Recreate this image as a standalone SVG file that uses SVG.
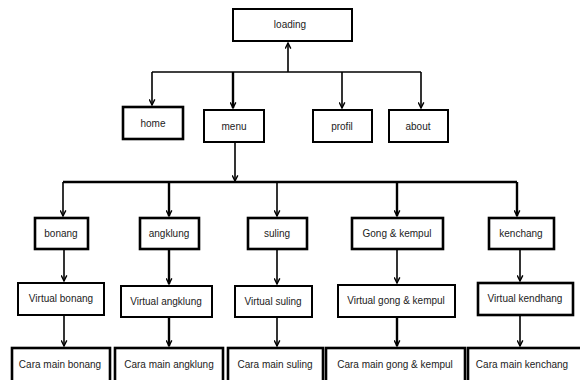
<svg xmlns="http://www.w3.org/2000/svg" width="580" height="380" viewBox="0 0 580 380">
<defs>
<marker id="ah" viewBox="0 0 10 10" refX="9" refY="5" markerWidth="7" markerHeight="7" markerUnits="userSpaceOnUse" orient="auto">
<polyline points="1,1 9,5 1,9" fill="none" stroke="#000" stroke-width="2"/>
</marker>
<style>
rect{fill:#fff;stroke:#000;stroke-width:2}
.t{font-family:"Liberation Sans",Arial,sans-serif;font-size:10px;fill:#222;text-anchor:middle}
.c line,.c polyline{stroke:#000;stroke-width:1.6;fill:none}
.c .a{marker-end:url(#ah)}
.c .b{stroke-width:2.4}
</style>
</defs>
<rect x="0" y="0" width="580" height="380" style="fill:#fff;stroke:none"/>
<g class="c" id="connectors">
<line class="a" x1="288" y1="72" x2="288" y2="43"/>
<line x1="152" y1="72" x2="421" y2="72"/>
<line class="a" x1="152" y1="72" x2="152" y2="105"/>
<line class="a b" x1="233" y1="72" x2="233" y2="108"/>
<line class="a" x1="342" y1="72" x2="342" y2="108"/>
<line class="a" x1="421" y1="72" x2="421" y2="108"/>
<line class="a" x1="235" y1="142" x2="235" y2="181"/>
<line class="b" x1="63" y1="182" x2="517" y2="182"/>
<line class="a" x1="63" y1="182" x2="63" y2="216"/>
<line class="a b" x1="169" y1="182" x2="169" y2="216"/>
<line class="a" x1="277" y1="182" x2="277" y2="216"/>
<line class="a b" x1="397" y1="182" x2="397" y2="216"/>
<line class="a b" x1="517" y1="182" x2="517" y2="216"/>
<line class="a" x1="64" y1="249" x2="64" y2="281"/>
<line class="a b" x1="169" y1="249" x2="169" y2="284"/>
<line class="a" x1="277" y1="249" x2="277" y2="284"/>
<line class="a" x1="397" y1="249" x2="397" y2="283"/>
<line class="a" x1="520" y1="249" x2="520" y2="281"/>
<line class="a" x1="64" y1="315" x2="64" y2="346"/>
<line class="a b" x1="169" y1="317" x2="169" y2="346"/>
<line class="a" x1="277" y1="317" x2="277" y2="346"/>
<line class="a b" x1="397" y1="317" x2="397" y2="346"/>
<line class="a" x1="520" y1="315" x2="520" y2="346"/>
</g>
<g id="loading"><rect x="233" y="9" width="119" height="32"/><text class="t" x="290" y="28">loading</text></g>
<g id="home"><rect x="123" y="107" width="60" height="32" style="stroke-width:2.6"/><text class="t" x="153" y="127">home</text></g>
<g id="menu"><rect x="204" y="110" width="60" height="32"/><text class="t" x="234" y="130">menu</text></g>
<g id="profil"><rect x="313" y="110" width="59" height="32"/><text class="t" x="342" y="130">profil</text></g>
<g id="about"><rect x="389" y="110" width="59" height="32"/><text class="t" x="418" y="130">about</text></g>
<g id="bonang"><rect x="35" y="218" width="53" height="31" style="stroke-width:2.6"/><text class="t" x="61" y="237">bonang</text></g>
<g id="angklung"><rect x="140" y="218" width="59" height="31" style="stroke-width:2.6"/><text class="t" x="169" y="237">angklung</text></g>
<g id="suling"><rect x="248" y="218" width="59" height="31" style="stroke-width:2.6"/><text class="t" x="277" y="237">suling</text></g>
<g id="gong"><rect x="352" y="218" width="91" height="31" style="stroke-width:2.6"/><text class="t" x="397" y="237">Gong &amp; kempul</text></g>
<g id="kenchang"><rect x="489" y="218" width="65" height="31" style="stroke-width:2.6"/><text class="t" x="521" y="237">kenchang</text></g>
<g id="vbonang"><rect x="18" y="283" width="86" height="32"/><text class="t" x="61" y="302">Virtual bonang</text></g>
<g id="vangklung"><rect x="121" y="286" width="91" height="31"/><text class="t" x="166" y="305">Virtual angklung</text></g>
<g id="vsuling"><rect x="235" y="286" width="77" height="31"/><text class="t" x="273" y="305">Virtual suling</text></g>
<g id="vgong"><rect x="338" y="285" width="117" height="32"/><text class="t" x="396" y="304">Virtual gong &amp; kempul</text></g>
<g id="vkendhang"><rect x="478" y="283" width="95" height="32" style="stroke-width:2.6"/><text class="t" x="525" y="302">Virtual kendhang</text></g>
<g id="cbonang"><rect x="12" y="348" width="98" height="40" style="stroke-width:2.6"/><text class="t" x="60" y="368">Cara main bonang</text></g>
<g id="cangklung"><rect x="115" y="348" width="108" height="40" style="stroke-width:2.6"/><text class="t" x="169" y="368">Cara main angklung</text></g>
<g id="csuling"><rect x="228" y="348" width="95" height="40" style="stroke-width:2.6"/><text class="t" x="275" y="368">Cara main suling</text></g>
<g id="cgong"><rect x="326" y="348" width="139" height="40" style="stroke-width:2.6"/><text class="t" x="395" y="368">Cara main gong &amp; kempul</text></g>
<g id="ckenchang"><rect x="468" y="348" width="120" height="40" style="stroke-width:2.6"/><text class="t" x="522" y="368">Cara main kenchang</text></g>
</svg>
